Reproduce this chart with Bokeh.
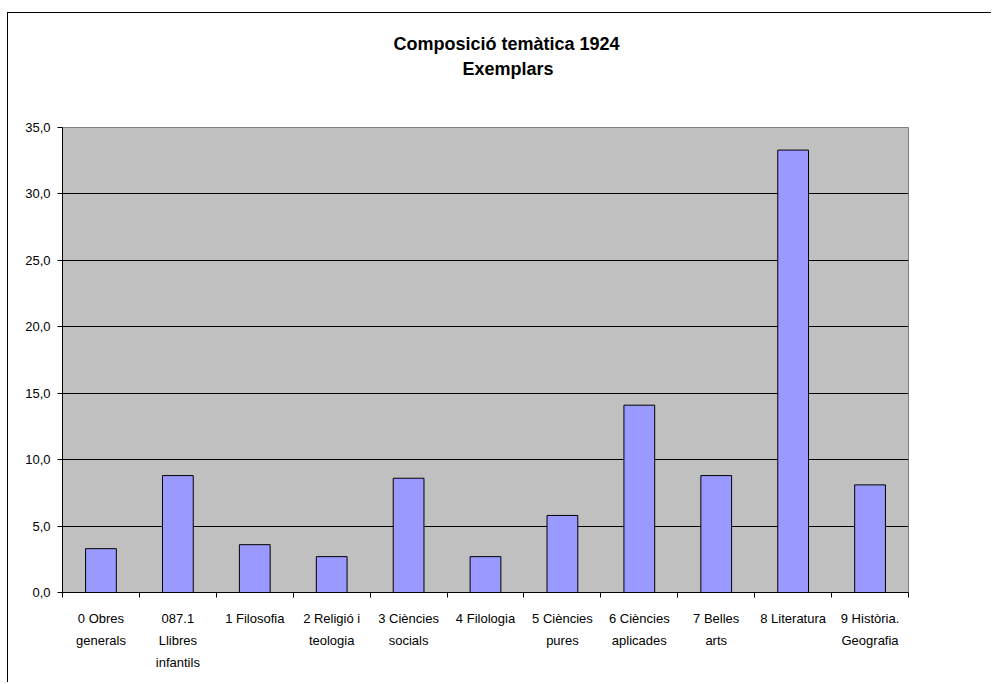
from bokeh.plotting import figure
from bokeh.models import FixedTicker, Range1d, CustomJSTickFormatter, Title
from bokeh.embed import file_html
from bokeh.resources import INLINE

# ---- data ----
categories = ["0 Obres\ngenerals", "087.1\nLlibres\ninfantils", "1 Filosofia",
              "2 Religió i\nteologia", "3 Ciències\nsocials", "4 Filologia",
              "5 Ciències\npures", "6 Ciències\naplicades", "7 Belles\narts",
              "8 Literatura", "9 Història.\nGeografia"]
values = [3.3, 8.8, 3.6, 2.7, 8.6, 2.7, 5.8, 14.1, 8.8, 33.3, 8.1]
y_ticks = [0, 5, 10, 15, 20, 25, 30, 35]
title_lines = ["Composició temàtica 1924", "Exemplars"]

# ---- layout ----
W, H = 984, 670
ML, MR, MT = 54, 84, 114
FW, FH = 846, 465
MB = H - MT - FH
n = len(categories)
YMAX = 35

FONT = "Liberation Sans"

p = figure(width=W, height=H, x_range=Range1d(0, n), y_range=Range1d(0, YMAX),
           output_backend="svg", toolbar_location=None,
           min_border_left=ML, min_border_right=W - ML - FW,
           min_border_top=MT, min_border_bottom=MB)
p.title.visible = False
p.background_fill_color = "#C0C0C0"
p.border_fill_color = "white"
p.outline_line_color = "#808080"
p.outline_line_width = 1
p.styles = {"border-left": "1px solid black", "border-top": "1px solid black",
            "margin-left": "7px", "margin-top": "12px"}

x_centers = [i + 0.5 for i in range(n)]
p.vbar(x=x_centers, top=values, bottom=0, width=0.4,
       fill_color="#9999FF", line_color="black", line_width=1)

# y axis
p.yaxis.ticker = FixedTicker(ticks=y_ticks, minor_ticks=[])
p.yaxis.formatter = CustomJSTickFormatter(code="return tick.toFixed(1).replace('.', ',');")
p.yaxis.axis_line_color = "black"
p.yaxis.major_tick_out = 5
p.yaxis.major_tick_in = 0
p.yaxis.minor_tick_line_color = None
p.yaxis.major_label_standoff = 7
p.yaxis.major_label_text_font = FONT
p.yaxis.major_label_text_font_size = "13px"
p.yaxis.major_label_text_color = "black"

# x axis: labels at centers, ticks at boundaries
p.xaxis.ticker = FixedTicker(ticks=x_centers, minor_ticks=list(range(n + 1)))
p.xaxis.formatter = CustomJSTickFormatter(args=dict(labels=categories),
                                          code="return labels[Math.floor(tick)];")
p.xaxis.axis_line_color = "black"
p.xaxis.major_tick_out = 0
p.xaxis.major_tick_in = 0
p.xaxis.minor_tick_out = 5
p.xaxis.minor_tick_in = 0
p.xaxis.minor_tick_line_color = "black"
p.xaxis.major_label_standoff = 13
p.xaxis.major_label_text_font = FONT
p.xaxis.major_label_text_font_size = "13px"
p.xaxis.major_label_text_line_height = 1.47
p.xaxis.major_label_text_align = "center"
p.xaxis.major_label_text_color = "black"

# grid
p.xgrid.grid_line_color = None
p.ygrid.ticker = FixedTicker(ticks=y_ticks)
p.ygrid.grid_line_color = "black"
p.ygrid.grid_line_width = 1

# titles (first added sits closest to the plot area); a blank spacer first
p.add_layout(Title(text=" ", align="left", standoff=25,
                   text_font=FONT, text_font_size="18px"), "above")
p.add_layout(Title(text=title_lines[1], align="left", offset=400, standoff=3,
                   text_font=FONT, text_font_style="bold", text_font_size="18px",
                   text_color="black"), "above")
p.add_layout(Title(text=title_lines[0], align="left", offset=331, standoff=3,
                   text_font=FONT, text_font_style="bold", text_font_size="18px",
                   text_color="black"), "above")

open("out.html", "w").write(file_html(p, INLINE))
